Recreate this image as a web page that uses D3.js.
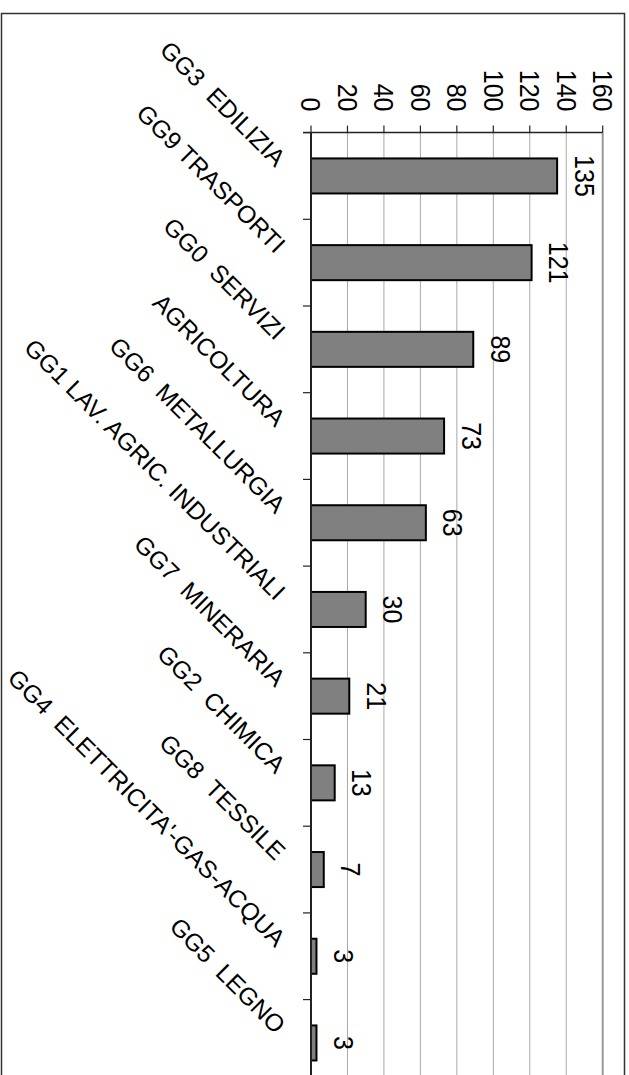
<!DOCTYPE html>
<html><head><meta charset="utf-8">
<script src="https://cdn.jsdelivr.net/npm/d3@7"></script>
<style>html,body{margin:0;padding:0;background:#fff;} svg{display:block;}</style>
</head><body>
<script>
// Categories, counts and value-axis ticks
const categories = ["GG3  EDILIZIA", "GG9 TRASPORTI", "GG0  SERVIZI", "AGRICOLTURA", "GG6  METALLURGIA",
  "GG1 LAV. AGRIC. INDUSTRIALI", "GG7  MINERARIA", "GG2  CHIMICA", "GG8  TESSILE",
  "GG4  ELETTRICITA'-GAS-ACQUA", "GG5  LEGNO"];
const values = [135, 121, 89, 73, 63, 30, 21, 13, 7, 3, 3];
const tickValues = [0, 20, 40, 60, 80, 100, 120, 140, 160];

const W = 629, H = 1075;
const font = "'Liberation Sans', Arial, Helvetica, sans-serif";
const svg = d3.select("body").append("svg").attr("width", W).attr("height", H);

// outer frame
svg.append("rect").attr("x", 1.5).attr("y", 13.5).attr("width", 623).attr("height", 1100)
  .attr("fill", "#fff").attr("stroke", "#333").attr("stroke-width", 1.5);

const top0 = 132.6, step = 86.7;
const x = d3.scaleLinear().domain([0, 160]).range([311, 602.7]);
const y = d3.scaleBand().domain(categories)
  .range([top0, top0 + categories.length * step])
  .paddingInner(0.596).paddingOuter(0.298);
const st = y.step();
const yEnd = top0 + categories.length * st;

// vertical gridlines
svg.append("g").selectAll("line").data(tickValues.filter(d => d > 0)).join("line")
  .attr("x1", d => x(d)).attr("x2", d => x(d))
  .attr("y1", top0).attr("y2", yEnd)
  .attr("stroke", d => d === 160 ? "#999" : "#a8a8a8")
  .attr("stroke-width", d => d === 160 ? 2 : 1);

// value axis (top)
const gx = svg.append("g");
gx.append("line").attr("x1", x(0) - 8).attr("x2", x(160)).attr("y1", top0).attr("y2", top0)
  .attr("stroke", "#222").attr("stroke-width", 1.5);
gx.selectAll("line.tick").data(tickValues).join("line").attr("class", "tick")
  .attr("x1", d => x(d)).attr("x2", d => x(d)).attr("y1", top0).attr("y2", top0 - 7)
  .attr("stroke", "#222").attr("stroke-width", 1.2);
gx.selectAll("text").data(tickValues).join("text")
  .attr("transform", d => `translate(${x(d)},111.5) rotate(90) scale(1,1.08)`)
  .attr("text-anchor", "end").attr("dy", "0.36em")
  .attr("font-family", font).attr("font-size", 25).attr("fill", "#000")
  .text(d => d);

// bars
svg.append("g").selectAll("rect").data(values).join("rect")
  .attr("x", x(0)).attr("y", (d, i) => y(categories[i]))
  .attr("width", d => x(d) - x(0)).attr("height", y.bandwidth())
  .attr("fill", "#808080").attr("stroke", "#000").attr("stroke-width", 2);

// category axis (left)
const gy = svg.append("g");
gy.append("line").attr("x1", x(0)).attr("x2", x(0)).attr("y1", top0).attr("y2", yEnd)
  .attr("stroke", "#222").attr("stroke-width", 2);
gy.selectAll("line.tick").data(d3.range(categories.length + 1)).join("line").attr("class", "tick")
  .attr("x1", x(0) - 8).attr("x2", x(0))
  .attr("y1", i => top0 + i * st).attr("y2", i => top0 + i * st)
  .attr("stroke", "#222").attr("stroke-width", 1.2);
gy.selectAll("text").data(categories).join("text")
  .attr("transform", d => `translate(${x(0) - 36},${y(d) + y.bandwidth() / 2 - 8}) rotate(45)`)
  .attr("text-anchor", "end")
  .attr("font-family", font).attr("font-size", 24.5).attr("fill", "#000")
  .style("white-space", "pre")
  .text(d => d);

// value labels
svg.append("g").selectAll("text").data(values).join("text")
  .attr("transform", (d, i) => `translate(${x(d) + 17},${y(categories[i]) + y.bandwidth() / 2}) rotate(90) scale(1,1.08)`)
  .attr("text-anchor", "middle").attr("dy", "-0.02em")
  .attr("font-family", font).attr("font-size", 25).attr("fill", "#000")
  .text(d => d);
</script>
</body></html>
